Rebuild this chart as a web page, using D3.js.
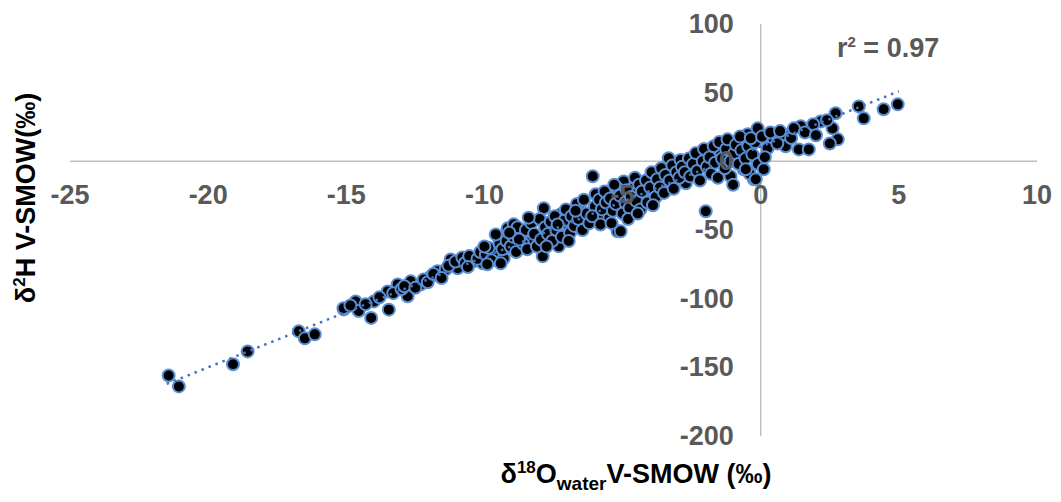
<!DOCTYPE html>
<html>
<head>
<meta charset="utf-8">
<script src="https://cdn.jsdelivr.net/npm/d3@7"></script>
<style>
  body { margin: 0; background: #fff; }
  svg { display: block; font-family: "Liberation Sans", Arial, sans-serif; }
  .tick-label { fill: #595959; font-weight: bold; font-size: 27px; }
  .axis-title { fill: #000; font-weight: bold; font-size: 27px; }
</style>
</head>
<body>
<div class="viz"></div>
<script>
// values (d18O, d2H)
const sparseLow = [
  [-21.43,-155.9],[-21.06,-163.9],[-19.1,-147.8],[-18.57,-138.4],[-16.72,-123.8],
  [-16.5,-128.9],[-16.14,-126],[-15.09,-107.8]
];
const bandA = [
  [-15.1,-107],[-14.66,-102],[-14.55,-109],[-14.1,-114],[-14.0,-102],[-13.46,-108],
  [-13.5,-94.7],[-13.14,-89.6],[-12.78,-98.3],[-12.67,-87.4],[-12.3,-89.6],[-11.94,-83.8],
  [-11.7,-80],[-11.4,-78.7],[-11.22,-71.4],[-10.97,-77.9],[-10.4,-72.8],[-10.06,-74.3],
  [-9.66,-67],[-9.52,-54.6],[-9.3,-70.6],[-9.16,-48.8],
  [-14.85,-105],[-14.3,-104],[-13.8,-99],[-13.3,-96],[-13.0,-93],[-12.9,-91],[-12.5,-92],
  [-12.2,-86],[-12.05,-88],[-11.85,-82],[-11.55,-85],[-11.3,-76],[-11.05,-73],[-10.8,-70],
  [-10.7,-74],[-10.55,-69],[-10.25,-71],[-10.15,-66],[-9.95,-68],[-9.85,-63],[-9.75,-72],
  [-9.45,-60],[-9.35,-64],[-10.6,-77],[-10.0,-62],[-9.9,-75]
];
const bandB = [
  [-9.59,-53.2],[-8.94,-45.9],[-9.41,-74.3],[-8.69,-53.2],[-8.32,-58.3],[-7.85,-34.2],
  [-7.89,-69.2],[-7.31,-61.9],[-6.99,-45.9],[-6.51,-36.4],[-7.24,-38.6],
  [-9.2,-58],[-9.05,-62],[-8.95,-55],[-8.85,-66],[-8.8,-48],[-8.6,-60],[-8.5,-50],[-8.45,-64],
  [-8.3,-45],[-8.2,-53],[-8.1,-62],[-8.0,-42],[-7.95,-57],[-7.8,-48],[-7.7,-53],[-7.6,-44],
  [-7.55,-58],[-7.45,-40],[-7.4,-50],[-7.2,-55],[-7.1,-43],[-7.05,-35],[-6.9,-52],[-6.85,-40],
  [-6.75,-47],[-6.65,-31],[-6.6,-42],[-6.45,-50],[-6.4,-28],[-6.3,-38],[-6.2,-45],
  [-9.1,-52],[-8.75,-57],[-8.4,-41],[-7.75,-62],[-7.35,-46],[-6.95,-58],[-6.7,-36]
];
const bandC = [
  [-6.08,-10.9],[-5.97,-24],[-4.96,-14.6],[-5.18,-51],[-5.54,-42.2],[-5.07,-51],[-4.23,-27.7],
  [-3.33,2.2],[-2.71,-16],[-3.37,-16.8],[-3.87,-21.8],[-4.6,-19.7],[-5.18,-19.7],
  [-6.0,-33],[-5.9,-40],[-5.85,-28],[-5.75,-35],[-5.65,-22],[-5.6,-30],[-5.45,-27],[-5.35,-36],
  [-5.3,-17],[-5.25,-31],[-5.1,-25],[-5.0,-38],[-4.9,-30],[-4.85,-21],[-4.75,-34],[-4.7,-26],
  [-4.55,-12],[-4.5,-29],[-4.4,-17],[-4.35,-35],[-4.3,-22],[-4.15,-14],[-4.1,-30],[-4.0,-19],
  [-3.95,-8],[-3.8,-26],[-3.75,-13],[-3.65,-19],[-3.6,-5],[-3.5,-23],[-3.45,-10],[-3.3,-14],
  [-3.2,-3],[-3.15,-20],[-3.05,-8],[-2.95,-12],[-2.9,1],
  [-6.1,-40],[-5.8,-46],[-5.4,-45],[-4.8,-42],[-4.45,-38],[-3.9,-32]
];
const bandD = [
  [-1.99,-36.4],[-1.09,-10.9],[-0.25,-13.1],[-0.62,-5.8],[-0.47,19.7],[-1.45,7.3],[-2.17,5.1],
  [-2.85,-4],[-2.75,-8],[-2.6,2],[-2.55,-11],[-2.45,-2],[-2.35,6],[-2.3,-7],[-2.2,-14],[-2.1,0],
  [-2.05,9],[-1.95,-4],[-1.85,3],[-1.8,-9],[-1.7,11],[-1.65,-1],[-1.55,-12],[-1.5,14],[-1.4,2],
  [-1.3,-5],[-1.25,9],[-1.2,16],[-1.1,0],[-1.0,-17],[-0.95,6],[-0.9,12],[-0.8,-2],[-0.75,18],
  [-0.7,8],[-0.55,2],[-0.45,11],[-0.4,-9],[-0.3,5],[-0.2,14],[-0.1,-2]
];
const bandE = [
  [-0.11,24],[0.11,-5.8],[-0.18,-13.1],[-0.54,-5.8],[0.47,16],[-0.36,16.8],[0.25,9.5],
  [0.83,19.7],[0.9,11],[1.38,8.7],[1.45,25.5],[1.74,8.7],[2.17,29],[2.6,24],[2.79,16],
  [2.71,35],[3.55,40],[3.73,31.3],[4.45,37.9],[4.96,41.5],
  [0.05,18],[0.15,3],[0.35,21],[0.6,13],[0.7,22],[1.1,17],[1.2,24],[1.6,21],[1.9,27],
  [2.0,19],[2.4,30],[2.5,13]
];
const points = [].concat(sparseLow, bandA, bandB, bandC, bandD, bandE);

const xTicks = [-25, -20, -15, -10, -5, 0, 5, 10];
const yTicks = [100, 50, 0, -50, -100, -150, -200];
const fitSlope = 8.04, fitIntercept = 10.8;   // trend line
const fitRange = [-21.5, 5];
const rSquared = "0.97";

const width = 1061, height = 502;
const svg = d3.select('.viz').append('svg')
  .attr('width', width).attr('height', height);

const x = d3.scaleLinear().domain([-25, 10]).range([70, 1037]);
const y = d3.scaleLinear().domain([-200, 100]).range([436, 24]);

// axes through the origin
svg.append('line')
  .attr('x1', x(-25)).attr('x2', x(10))
  .attr('y1', y(0)).attr('y2', y(0))
  .attr('stroke', '#bfbfbf').attr('stroke-width', 1.5);
svg.append('line')
  .attr('x1', x(0)).attr('x2', x(0))
  .attr('y1', y(100)).attr('y2', y(-200))
  .attr('stroke', '#bfbfbf').attr('stroke-width', 1.5);

// points
svg.append('g').selectAll('circle')
  .data(points)
  .enter().append('circle')
  .attr('cx', d => x(d[0]))
  .attr('cy', d => y(d[1]))
  .attr('r', 6)
  .attr('fill', '#000')
  .attr('stroke', '#5b8fd3')
  .attr('stroke-width', 2);

// dotted linear trend
svg.append('line')
  .attr('x1', x(fitRange[0])).attr('y1', y(fitSlope * fitRange[0] + fitIntercept))
  .attr('x2', x(fitRange[1])).attr('y2', y(fitSlope * fitRange[1] + fitIntercept))
  .attr('stroke', '#4472c4')
  .attr('stroke-width', 2.5)
  .attr('stroke-dasharray', '2.5,5');

// tick labels
svg.append('g').selectAll('text')
  .data(xTicks)
  .enter().append('text')
  .attr('class', 'tick-label')
  .attr('x', d => x(d))
  .attr('y', y(0) + 43)
  .attr('text-anchor', 'middle')
  .text(d => d);

svg.append('g').selectAll('text')
  .data(yTicks)
  .enter().append('text')
  .attr('class', 'tick-label')
  .attr('x', x(0) - 27)
  .attr('y', d => y(d) + 9)
  .attr('text-anchor', 'end')
  .text(d => d);

// r squared
const r2 = svg.append('text')
  .attr('class', 'tick-label')
  .attr('x', 837).attr('y', 57);
r2.append('tspan').text('r');
r2.append('tspan').attr('font-size', '15px').attr('dy', -10).text('2');
r2.append('tspan').attr('dy', 10).text(' = ' + rSquared);

// axis titles
const yt = svg.append('text')
  .attr('class', 'axis-title')
  .attr('transform', 'translate(35,198) rotate(-90)')
  .attr('text-anchor', 'middle');
yt.append('tspan').text('δ');
yt.append('tspan').attr('font-size', '17px').attr('dy', -10).text('2');
yt.append('tspan').attr('dy', 10).text('H V-SMOW(‰)');

const xt = svg.append('text')
  .attr('class', 'axis-title')
  .attr('x', 636).attr('y', 483)
  .attr('text-anchor', 'middle');
xt.append('tspan').text('δ');
xt.append('tspan').attr('font-size', '17px').attr('dy', -10).text('18');
xt.append('tspan').attr('dy', 10).text('O');
xt.append('tspan').attr('font-size', '19px').attr('dy', 7).text('water');
xt.append('tspan').attr('dy', -7).text('V-SMOW (‰)');
</script>
</body>
</html>
